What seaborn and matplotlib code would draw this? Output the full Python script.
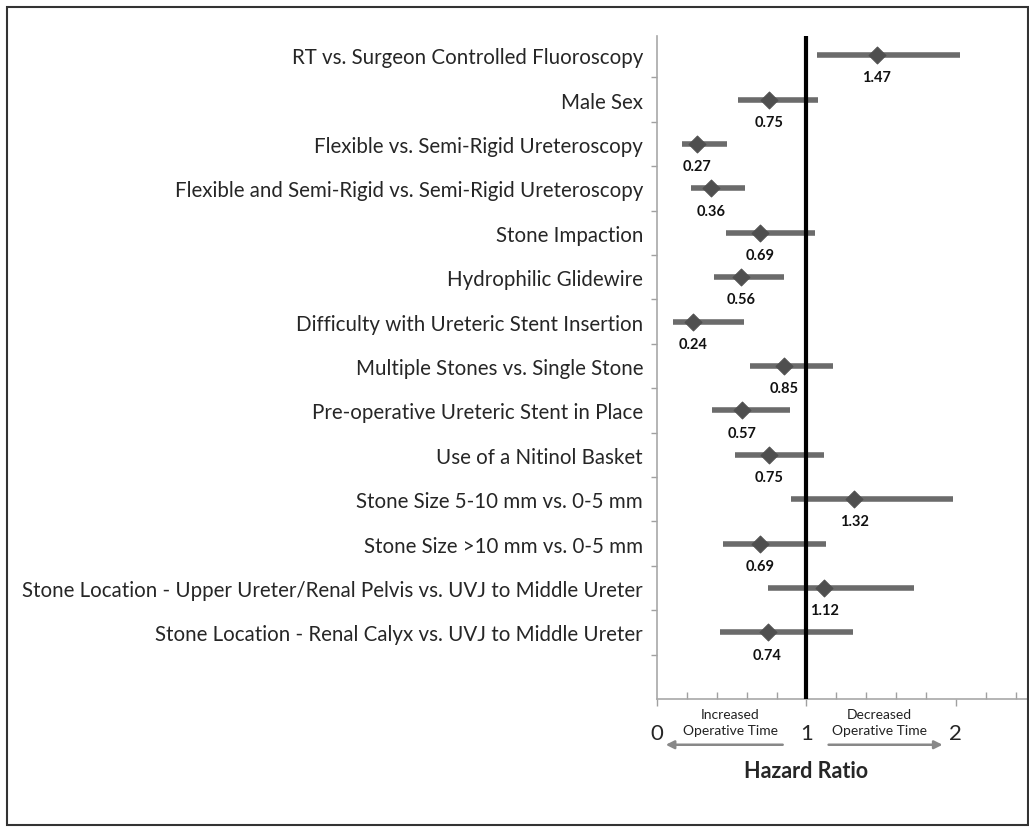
import matplotlib
matplotlib.use("Agg")
import matplotlib.pyplot as plt
import seaborn as sns
import numpy as np
import pandas as pd
from matplotlib.patches import Rectangle

# veriler
degiskenler = [
    "RT vs. Surgeon Controlled Fluoroscopy",
    "Male Sex",
    "Flexible vs. Semi-Rigid Ureteroscopy",
    "Flexible and Semi-Rigid vs. Semi-Rigid Ureteroscopy",
    "Stone Impaction",
    "Hydrophilic Glidewire",
    "Difficulty with Ureteric Stent Insertion",
    "Multiple Stones vs. Single Stone",
    "Pre-operative Ureteric Stent in Place",
    "Use of a Nitinol Basket",
    "Stone Size 5-10 mm vs. 0-5 mm",
    "Stone Size >10 mm vs. 0-5 mm",
    "Stone Location - Upper Ureter/Renal Pelvis vs. UVJ to Middle Ureter",
    "Stone Location - Renal Calyx vs. UVJ to Middle Ureter",
]
hr = [1.47, 0.75, 0.27, 0.36, 0.69, 0.56, 0.24, 0.85, 0.57, 0.75, 1.32, 0.69, 1.12, 0.74]
alt_sinir = [1.07, 0.54, 0.17, 0.23, 0.46, 0.38, 0.11, 0.62, 0.37, 0.52, 0.90, 0.44, 0.74, 0.42]
ust_sinir = [2.03, 1.08, 0.47, 0.59, 1.06, 0.85, 0.58, 1.18, 0.89, 1.12, 1.98, 1.13, 1.72, 1.31]

df = pd.DataFrame({"degisken": degiskenler, "hr": hr,
                   "alt": alt_sinir, "ust": ust_sinir})
df["y"] = len(df) + 0.5 - np.arange(len(df))

sns.set_style("white")
plt.rcParams["font.family"] = ["Lato", "DejaVu Sans"]

fig = plt.figure(figsize=(10.29, 8.28), dpi=100)
ax = fig.add_axes([657 / 1029, 1 - 700 / 828, 1 - 657 / 1029, (700 - 37) / 828])

# guven araliklari
ax.hlines(df["y"], df["alt"], df["ust"], color="#6b6b6b", lw=4, zorder=2)
ax.axvline(1, color="black", lw=3, zorder=3)
sns.scatterplot(data=df, x="hr", y="y", marker="D", s=75, color="#4f4f4f",
                edgecolor="#4f4f4f", ax=ax, zorder=4, legend=False)

for _, r in df.iterrows():
    ax.text(r["hr"], r["y"] - 0.5, f"{r['hr']:.2f}", ha="center", va="center",
            fontsize=10.5, fontweight="bold", color="#111111")

ax.set_xlim(0, 2.49)
ax.set_ylim(0, 14.93)
ax.set_xticks([0, 1, 2])
ax.set_xticklabels(["0", "1", "2"], fontsize=16)
ax.set_xticks(np.arange(0.2, 2.5, 0.2), minor=True)
ax.tick_params(axis="x", which="major", direction="out", length=5, pad=12,
               color="#a0a0a0", width=1, bottom=True)
ax.tick_params(axis="x", which="minor", direction="in", length=5,
               color="#a0a0a0", width=1, bottom=True)

ax.set_yticks(np.arange(1, 15))
ax.set_yticklabels([])
ax.set_yticks(df["y"], minor=True)
ax.set_yticklabels(df["degisken"], minor=True, fontsize=14.8)
ax.tick_params(axis="y", which="major", direction="out", length=4,
               color="#a0a0a0", width=1, left=True)
ax.tick_params(axis="y", which="minor", length=0, pad=10)

for side in ["top", "right"]:
    ax.spines[side].set_visible(False)
for side in ["left", "bottom"]:
    ax.spines[side].set_color("#a8a8a8")
    ax.spines[side].set_linewidth(1.2)
ax.set_xlabel("")
ax.set_ylabel("")

# eksen altindaki aciklamalar
trans = ax.get_xaxis_transform()
ax.text(0.49, -0.013, "Increased\nOperative Time", transform=trans, ha="center",
        va="top", fontsize=10, linespacing=1.4, color="#222222")
ax.text(1.49, -0.013, "Decreased\nOperative Time", transform=trans, ha="center",
        va="top", fontsize=10, linespacing=1.4, color="#222222")
ax.annotate("", xy=(0.04, -0.069), xytext=(0.86, -0.069), xycoords=trans,
            textcoords=trans, annotation_clip=False,
            arrowprops=dict(arrowstyle="-|>", color="#888888", lw=1.8,
                            mutation_scale=12))
ax.annotate("", xy=(1.93, -0.069), xytext=(1.13, -0.069), xycoords=trans,
            textcoords=trans, annotation_clip=False,
            arrowprops=dict(arrowstyle="-|>", color="#888888", lw=1.8,
                            mutation_scale=12))
ax.text(1, -0.092, "Hazard Ratio", transform=trans, ha="center", va="top",
        fontsize=15.5, fontweight="bold")

# cerceve
fig.patches.append(Rectangle((7 / 1029, 1 - 826 / 828), 1021 / 1029, 818 / 828,
                             transform=fig.transFigure, fill=False,
                             edgecolor="#333333", lw=1.5))

fig.savefig("out.png", dpi=100)
